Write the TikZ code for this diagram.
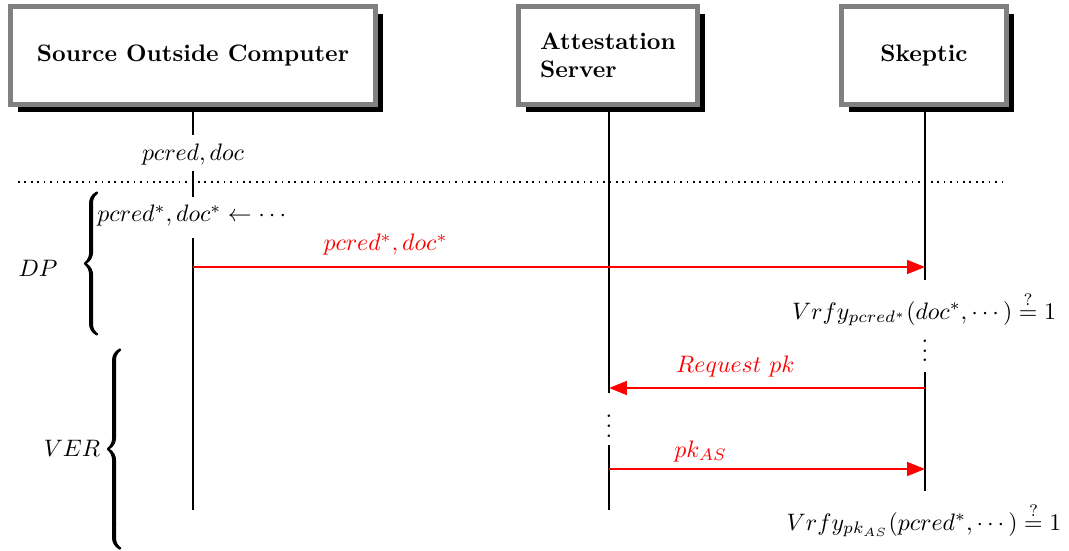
\documentclass[tikz,border=0pt]{standalone}
\usepackage{amsmath}
\usetikzlibrary{arrows.meta,shadows}
% heavier rendering of the extensible braces (fill + thin stroke)
\newcommand{\heavybrace}[1]{%
  \special{pdf:literal direct 2 Tr 0.45 w}%
  $\left\{\vcenter{\hbox{\vrule height #1 width 0pt}}\right.$%
  \special{pdf:literal direct 0 Tr}}
\begin{document}
\begin{tikzpicture}[x=0.42pt,y=-0.42pt,
  actor/.style={draw=gray, line width=2pt, fill=white,
    general shadow={fill=black, shadow xshift=3.2pt, shadow yshift=-3.2pt},
    minimum height=41pt, font=\bfseries, inner sep=0pt},
  life/.style={line width=0.8pt},
  msg/.style={draw=red, line width=0.8pt, -{Triangle[length=7.5pt,width=5.8pt]}},
  lbl/.style={text=red, inner sep=0pt},
  plain/.style={inner sep=0pt},
]
\useasboundingbox (0,0) rectangle (1069,550);

% participants
\node[actor, minimum width=153pt] (src) at (193,55.5) {Source Outside Computer};
\node[actor, minimum width=75pt, align=left] (as) at (608,55.5) {Attestation\\Server};
\node[actor, minimum width=69.3pt] (sk) at (924,55.5) {Skeptic};

% texts along the lifelines
\node[plain] (init) at (193,155) {$pcred, doc$};
\node[plain, anchor=west] (gen) at (97,216) {$pcred^*, doc^* \leftarrow \cdots$};
\node[plain] (vrfy1) at (924,309) {$Vrfy_{pcred^*}(doc^*, \cdots) \stackrel{?}{=} 1$};
\node[plain, anchor=south] (skdots) at (925,362) {$\vdots$};
\node[plain, anchor=south] (asdots) at (609,437.5) {$\vdots$};
\node[plain] (vrfy2) at (924,520) {$Vrfy_{pk_{AS}}(pcred^*, \cdots) \stackrel{?}{=} 1$};

% phase labels and braces
\node[plain] (dp) at (38,268) {$DP$};
\node[plain, anchor=west] (dpbrace) at (80,263.5) {\heavybrace{62pt}};
\node[plain] (ver) at (72,448) {$VER$};
\node[plain, anchor=west] (verbrace) at (103,449) {\heavybrace{88pt}};

% separator
\coordinate (sepl) at (18,182);
\coordinate (sepr) at (1003,182);
\draw[dotted, line width=0.7pt] (sepl) -- (sepr);

% lifeline break points
\coordinate (s1) at (src.south |- 0,135);
\coordinate (s2) at (src.south |- 0,171);
\coordinate (s3) at (src.south |- 0,197);
\coordinate (s4) at (src.south |- 0,238);
\coordinate (s5) at (src.south |- 0,510);
\coordinate (a1) at (609,393);
\coordinate (a2) at (609,445);
\coordinate (a3) at (609,510);
\coordinate (k1) at (925,280);
\coordinate (k2) at (925,372);
\coordinate (k3) at (925,491);

% lifelines
\draw[life] (src.south) -- (s1);
\draw[life] (s2) -- (s3);
\draw[life] (s4) -- (s5);
\draw[life] (as.south -| a1) -- (a1);
\draw[life] (a2) -- (a3);
\draw[life] (sk.south -| k1) -- (k1);
\draw[life] (k2) -- (k3);

% messages
\coordinate (m1s) at (src.south |- 0,267);
\coordinate (m1e) at (925,267);
\draw[msg] (m1s) -- node[lbl, pos=0.263, above=4.4pt] {$pcred^*, doc^*$} (m1e);

\coordinate (m2s) at (925,388);
\coordinate (m2e) at (609,388);
\draw[msg] (m2s) -- node[lbl, pos=0.6, above=4pt] {$Request\ pk$} (m2e);

\coordinate (m3s) at (609,469);
\coordinate (m3e) at (925,469);
\draw[msg] (m3s) -- node[lbl, pos=0.29, above=2.6pt] {$pk_{AS}$} (m3e);
\end{tikzpicture}
\end{document}
